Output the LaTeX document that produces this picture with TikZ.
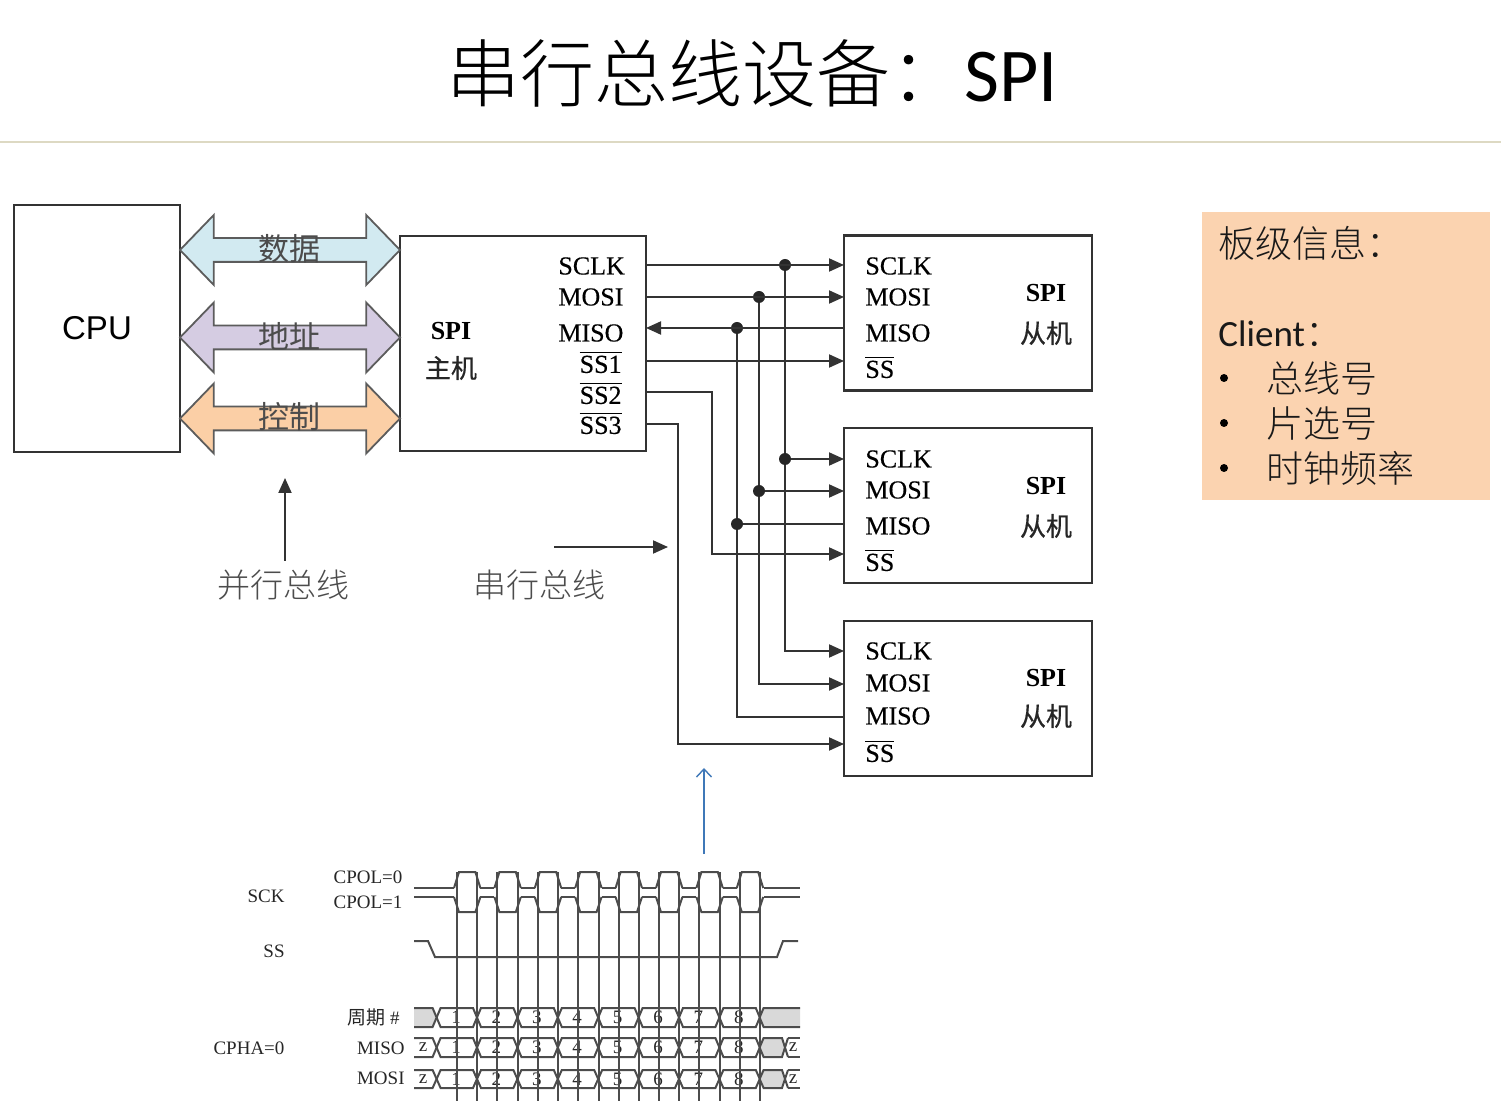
\documentclass[tikz,border=0pt]{standalone}
\usepackage{amsmath}
\usepackage{fontspec}
\usepackage{xcolor}
\usepackage{tikz}
\usetikzlibrary{arrows.meta,shapes.arrows}

\setmainfont{Liberation Serif}
\newfontfamily\portfont[FakeBold=0.3]{Liberation Serif}
\newfontfamily\cjk{Noto Sans CJK SC}
\newfontfamily\cjklight{Noto Sans CJK SC Light}
\newfontfamily\cjkfat[FakeBold=0.6]{Noto Sans CJK SC}
\newfontfamily\cpufont{Liberation Sans}
\newfontfamily\latinfont{Carlito}
\newcommand{\fsize}[1]{\fontsize{#1}{#1}\selectfont}
\newcommand{\ssbar}[1]{\(\overline{\mbox{#1}}\)}

\definecolor{buscyan}{HTML}{D2EAF1}
\definecolor{buspurple}{HTML}{D5CCE2}
\definecolor{busorange}{HTML}{FBCFA6}
\definecolor{notefill}{HTML}{FBD3B0}
\definecolor{ruleline}{HTML}{DDD9C3}
\definecolor{wiregray}{HTML}{333333}
\definecolor{notearrow}{HTML}{3F78B8}

\tikzset{
    box/.style={draw=wiregray,line width=1.1pt,inner sep=0pt},
    mbox/.style={box,minimum width=123pt,minimum height=107.5pt},
    sbox/.style={box,minimum width=124pt,minimum height=77.5pt},
    bus/.style={double arrow,draw=wiregray!80,line width=0.9pt,inner xsep=0pt,inner ysep=5.5pt,
        minimum height=110pt,minimum width=34pt,
        double arrow head extend=11.5pt,double arrow tip angle=92},
    buslabel/.style={font=\cjk\fsize{15.5},text=black!70,inner sep=0pt},
    port/.style={font=\portfont\fsize{13},text=black,inner sep=0pt},
    cjklabel/.style={font=\cjkfat\fsize{13},text=black!85,inner sep=0pt},
    wire/.style={draw=wiregray,line width=1pt},
    junction/.style={circle,fill=black!85,inner sep=0pt,minimum size=6pt},
    tag/.style={font=\cjklight\fsize{16.5},text=black!70,inner sep=0pt},
    wave/.style={draw=black!70,line width=1pt},
    tlabel/.style={font=\fsize{9.5},text=black!85,inner sep=0pt},
    note/.style={font=\cjklight\fsize{18.5},text=black!90,inner sep=0pt,anchor=west},
}

\begin{document}
\begin{tikzpicture}[>={Stealth[length=7.5pt,width=6.5pt,inset=0pt]},x=0.5pt,y=-0.5pt]
    \useasboundingbox (0,0) rectangle (1501,1101);

    \node[font=\fsize{37},inner sep=0pt] (title) at (752,73) {{\cjklight 串行总线设备：}{\latinfont\fsize{38}SPI}};
    \coordinate (ruleL) at (0,142);
    \coordinate (ruleR) at (1501,142);
    \draw[ruleline,line width=0.8pt] (ruleL) -- (ruleR);

    \node[box,minimum width=83pt,minimum height=123.5pt,font=\cpufont\fsize{16.5}] (cpu) at (97,328.5) {CPU};
    \node[mbox] (master) at (523,343.5) {};

    \node[bus,fill=buscyan] (busdata) at (290,250) {};
    \node[bus,fill=buspurple] (busaddr) at (290,337.5) {};
    \node[bus,fill=busorange] (busctrl) at (290,418.5) {};
    \node[buslabel] (ldata) at (289,249) {数据};
    \node[buslabel] (laddr) at (289,336) {地址};
    \node[buslabel] (lctrl) at (289,417) {控制};

    \node[port,font=\fsize{13}\bfseries] (mspi) at (451,331) {SPI};
    \node[cjklabel] (mzhu) at (451,368) {主机};
    \node[port,anchor=west] (msclk) at (558,266) {SCLK};
    \node[port,anchor=west] (mmosi) at (558,297) {MOSI};
    \node[port,anchor=west] (mmiso) at (558,333) {MISO};
    \node[port,anchor=east] (mssa) at (622,362) {\ssbar{SS1}};
    \node[port,anchor=east] (mssb) at (622,393) {\ssbar{SS2}};
    \node[port,anchor=east] (mssc) at (622,423) {\ssbar{SS3}};

    \foreach \n/\yc/\ya/\yb/\yd/\ye/\yf/\yg in {1/313/266/297/333/367/293/333,2/505.5/459/490/526/560/486/526,3/698.5/651/683/716/751/678/716} {
        \node[sbox] (s\n) at (968,\yc) {};
        \node[port,anchor=west] (s\n clk) at (865,\ya) {SCLK};
        \node[port,anchor=west] (s\n mosi) at (865,\yb) {MOSI};
        \node[port,anchor=west] (s\n miso) at (865,\yd) {MISO};
        \node[port,anchor=west] (s\n ss) at (865,\ye) {\ssbar{SS}};
        \node[port,font=\fsize{13}\bfseries] (s\n spi) at (1046,\yf) {SPI};
        \node[cjklabel] (s\n cong) at (1046,\yg) {从机};
    }

    \foreach \n/\ya/\yb/\yd/\ye in {1/265/297/328/361,2/459/491/524/554,3/651/684/717/744} {
        \coordinate (in\n clk) at (844,\ya);
        \coordinate (in\n mosi) at (844,\yb);
        \coordinate (in\n miso) at (844,\yd);
        \coordinate (in\n ss) at (844,\ye);
    }
    \coordinate (outclk) at (646,265);
    \coordinate (outmosi) at (646,297);
    \coordinate (outmiso) at (646,328);
    \coordinate (outa) at (646,361);
    \coordinate (outb) at (646,392);
    \coordinate (outc) at (646,424);
    \coordinate (bendb) at (712,392);
    \coordinate (bendc) at (678,424);

    \node[junction] (jclka) at (785,265) {};
    \node[junction] (jclkb) at (785,459) {};
    \node[junction] (jmosia) at (759,297) {};
    \node[junction] (jmosib) at (759,491) {};
    \node[junction] (jmisoa) at (737,328) {};
    \node[junction] (jmisob) at (737,524) {};

    \draw[wire,->] (outclk) -- (in1clk);
    \draw[wire,->] (outmosi) -- (in1mosi);
    \draw[wire,->] (in1miso) -- (outmiso);
    \draw[wire,->] (outa) -- (in1ss);
    \draw[wire,->] (outb) -- (bendb) |- (in2ss);
    \draw[wire,->] (outc) -- (bendc) |- (in3ss);

    \draw[wire] (jclka) -- (jclkb);
    \draw[wire,->] (jclkb) -- (in2clk);
    \draw[wire,->] (jclkb) |- (in3clk);
    \draw[wire] (jmosia) -- (jmosib);
    \draw[wire,->] (jmosib) -- (in2mosi);
    \draw[wire,->] (jmosib) |- (in3mosi);
    \draw[wire] (jmisoa) -- (jmisob);
    \draw[wire] (jmisob) -- (in2miso);
    \draw[wire] (jmisob) |- (in3miso);

    \node[tag] (lpar) at (283,585) {并行总线};
    \node[tag] (lser) at (539,585) {串行总线};
    \coordinate (para) at (285,561);
    \coordinate (parb) at (285,478);
    \coordinate (sera) at (554,547);
    \coordinate (serb) at (668,547);
    \draw[wire,->] (para) -- (parb);
    \draw[wire,->] (sera) -- (serb);
    \coordinate (blua) at (704,854);
    \coordinate (blub) at (704,768);
    \draw[notearrow,line width=0.7pt,-{Straight Barb[length=4pt,width=7.5pt]}] (blua) -- (blub);

    \node[fill=notefill,minimum width=144pt,minimum height=144pt,inner sep=0pt] (infobox) at (1346,356) {};
    \node[note] (ninfo) at (1218,243) {板级信息：};
    \node[note,font=\latinfont\fsize{18.5}] (nclient) at (1218,334) {Client\cjklight ：};
    \node[note] (nbus) at (1266,378) {总线号};
    \node[note] (nchip) at (1266,423) {片选号};
    \node[note] (nfreq) at (1266,468) {时钟频率};
    \foreach \y/\m in {378/a,423/b,468/c} {
        \node[circle,fill=black,inner sep=0pt,minimum size=4pt] (bullet\m) at (1224,\y) {};
    }

    \node[tlabel,anchor=east] (tsck) at (285,896) {SCK};
    \node[tlabel,anchor=east] (tss) at (285,951) {SS};
    \node[tlabel] (tcpola) at (368,877) {CPOL=0};
    \node[tlabel] (tcpolb) at (368,902) {CPOL=1};
    \node[tlabel,anchor=east] (tcyc) at (400,1017) {{\cjk 周期} \#};
    \node[tlabel] (tcpha) at (249,1048) {CPHA=0};
    \node[tlabel,anchor=east] (tmiso) at (405,1048) {MISO};
    \node[tlabel,anchor=east] (tmosi) at (405,1078) {MOSI};

    \foreach \yt/\yb/\name in {1008/1027/cyc,1038/1057/miso,1070/1088/mosi} {
        \pgfmathsetmacro{\ym}{(\yt+\yb)/2}
        \foreach \i in {0,...,7} {
            \pgfmathsetmacro{\xa}{436.6+40.4*\i}
            \pgfmathsetmacro{\xb}{\xa+40.4}
            \draw[wave] (\xa,\ym) -- (\xa+4,\yt) -- (\xb-4,\yt) -- (\xb,\ym) -- (\xb-4,\yb) -- (\xa+4,\yb) -- cycle;
            \pgfmathtruncatemacro{\num}{\i+1}
            \node[tlabel] (\name\num) at (\xa+19.4,\ym) {\num};
        }
    }
    \fill[black!15] (414,1008) -- (432.6,1008) -- (436.6,1017.5) -- (432.6,1027) -- (414,1027) -- cycle;
    \draw[wave] (414,1008) -- (432.6,1008) -- (436.6,1017.5) -- (432.6,1027) -- (414,1027);
    \fill[black!15] (800,1008) -- (763.6,1008) -- (759.6,1017.5) -- (763.6,1027) -- (800,1027) -- cycle;
    \draw[wave] (800,1008) -- (763.6,1008) -- (759.6,1017.5) -- (763.6,1027) -- (800,1027);
    \foreach \yt/\yb/\name in {1038/1057/miso,1070/1088/mosi} {
        \pgfmathsetmacro{\ym}{(\yt+\yb)/2}
        \draw[wave] (414,\yt) -- (432.6,\yt) -- (436.6,\ym) -- (432.6,\yb) -- (414,\yb);
        \fill[black!15] (759.6,\ym) -- (763.6,\yt) -- (782,\yt) -- (785,\ym) -- (782,\yb) -- (763.6,\yb) -- cycle;
        \draw[wave] (788,\yb) -- (782,\yt) -- (763.6,\yt) -- (759.6,\ym) -- (763.6,\yb) -- (782,\yb) -- (788,\yt);
        \draw[wave] (788,\yt) -- (800,\yt);
        \draw[wave] (788,\yb) -- (800,\yb);
        \node[tlabel] (\name za) at (423,\ym) {z};
        \node[tlabel] (\name zb) at (793,\ym) {z};
    }

    \foreach \i in {0,...,7} {
        \pgfmathsetmacro{\xa}{457+40.4*\i}
        \pgfmathsetmacro{\xb}{\xa+20.4}
        \draw[wave] (\xa-3,888) -- (\xa+2,872) -- (\xb-2,872) -- (\xb+3,888);
        \draw[wave] (\xa-3,897) -- (\xa+2,912) -- (\xb-2,912) -- (\xb+3,897);
        \draw[wave] (\xa,872) -- (\xa,1101);
        \draw[wave] (\xb,872) -- (\xb,1101);
    }
    \foreach \i in {0,...,6} {
        \pgfmathsetmacro{\xa}{480.4+40.4*\i}
        \draw[wave] (\xa,888) -- (\xa+14,888);
        \draw[wave] (\xa,897) -- (\xa+14,897);
    }
    \draw[wave] (414,888) -- (454,888);
    \draw[wave] (414,897) -- (454,897);
    \draw[wave] (763.8,888) -- (800,888);
    \draw[wave] (763.8,897) -- (800,897);
    \draw[wave] (414,941) -- (428,941) -- (435,957) -- (777,957) -- (783,941) -- (798,941);
\end{tikzpicture}
\end{document}
